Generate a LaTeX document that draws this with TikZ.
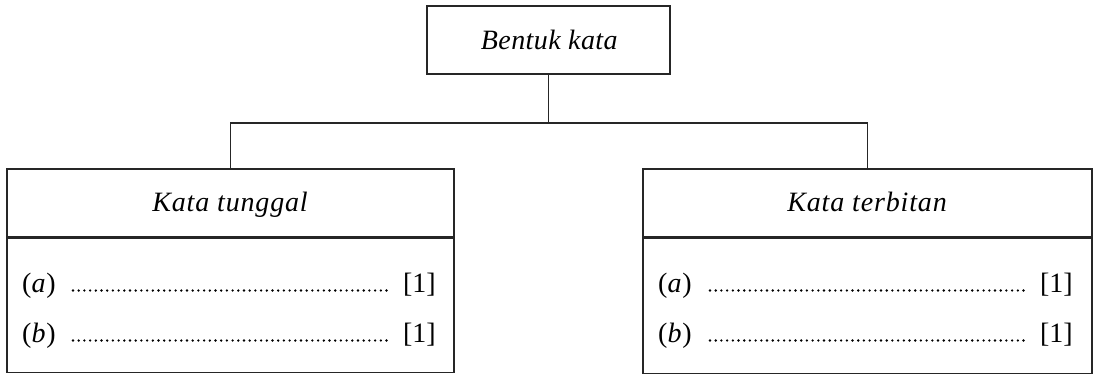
\documentclass[tikz,border=0pt]{standalone}
\usepackage{fontspec}
\setmainfont{Liberation Serif}
\begin{document}
\begin{tikzpicture}[x=1pt,y=-1pt,
  box/.style={draw=black!85, line width=1.1pt, rectangle, inner sep=0pt},
  conn/.style={draw=black!85, line width=1.1pt},
  lbl/.style={inner sep=0pt, font=\fontsize{28}{33}\selectfont},
  hdr/.style={inner sep=0pt, font=\fontsize{28}{33}\selectfont\addfontfeature{LetterSpace=3}},
  dots/.style={line width=2.6pt, line cap=round, dash pattern=on 0pt off 5.7pt, black}]
\useasboundingbox (0,0) rectangle (1095,380);
% top box
\node[box, minimum width=243pt, minimum height=68pt] (top) at (548.5,40) {};
\node[hdr, anchor=base, font=\fontsize{28}{33}\selectfont\addfontfeature{LetterSpace=1.5}] (toptxt) at (549.5,49.5) {\textit{Bentuk kata}};
% left box
\node[box, minimum width=447pt, minimum height=68pt] (lh) at (230.5,203) {};
\node[box, minimum width=447pt, minimum height=134pt, anchor=north] (lb) at (lh.south) {};
\node[hdr, anchor=base] (lhtxt) at (230.5,211) {\textit{Kata tunggal}};
% right box
\node[box, minimum width=449pt, minimum height=68pt] (rh) at (867.5,203) {};
\node[box, minimum width=449pt, minimum height=135pt, anchor=north] (rb) at (rh.south) {};
\node[hdr, anchor=base] (rhtxt) at (867.5,211) {\textit{Kata terbitan}};
% connectors
\coordinate (j) at (548.5,123);
\draw[conn] (top.south) -- (j);
\draw[conn] (lh.north) -- (lh.north |- j) -- (rh.north |- j) -- (rh.north);
% left rows
\node[hdr, anchor=base west] (la) at (22,292) {(\textit{a})};
\node[lbl, anchor=base east] (la1) at (436,292) {[1]};
\draw[dots] (73,290.5) -- (390,290.5);
\node[hdr, anchor=base west] (lbb) at (22,342) {(\textit{b})};
\node[lbl, anchor=base east] (lb1) at (436,342) {[1]};
\draw[dots] (73,340.5) -- (390,340.5);
% right rows
\node[hdr, anchor=base west] (ra) at (658,292) {(\textit{a})};
\node[lbl, anchor=base east] (ra1) at (1073,292) {[1]};
\draw[dots] (710,290.5) -- (1028,290.5);
\node[hdr, anchor=base west] (rbb) at (658,342) {(\textit{b})};
\node[lbl, anchor=base east] (rb1) at (1073,342) {[1]};
\draw[dots] (710,340.5) -- (1028,340.5);
\end{tikzpicture}
\end{document}
